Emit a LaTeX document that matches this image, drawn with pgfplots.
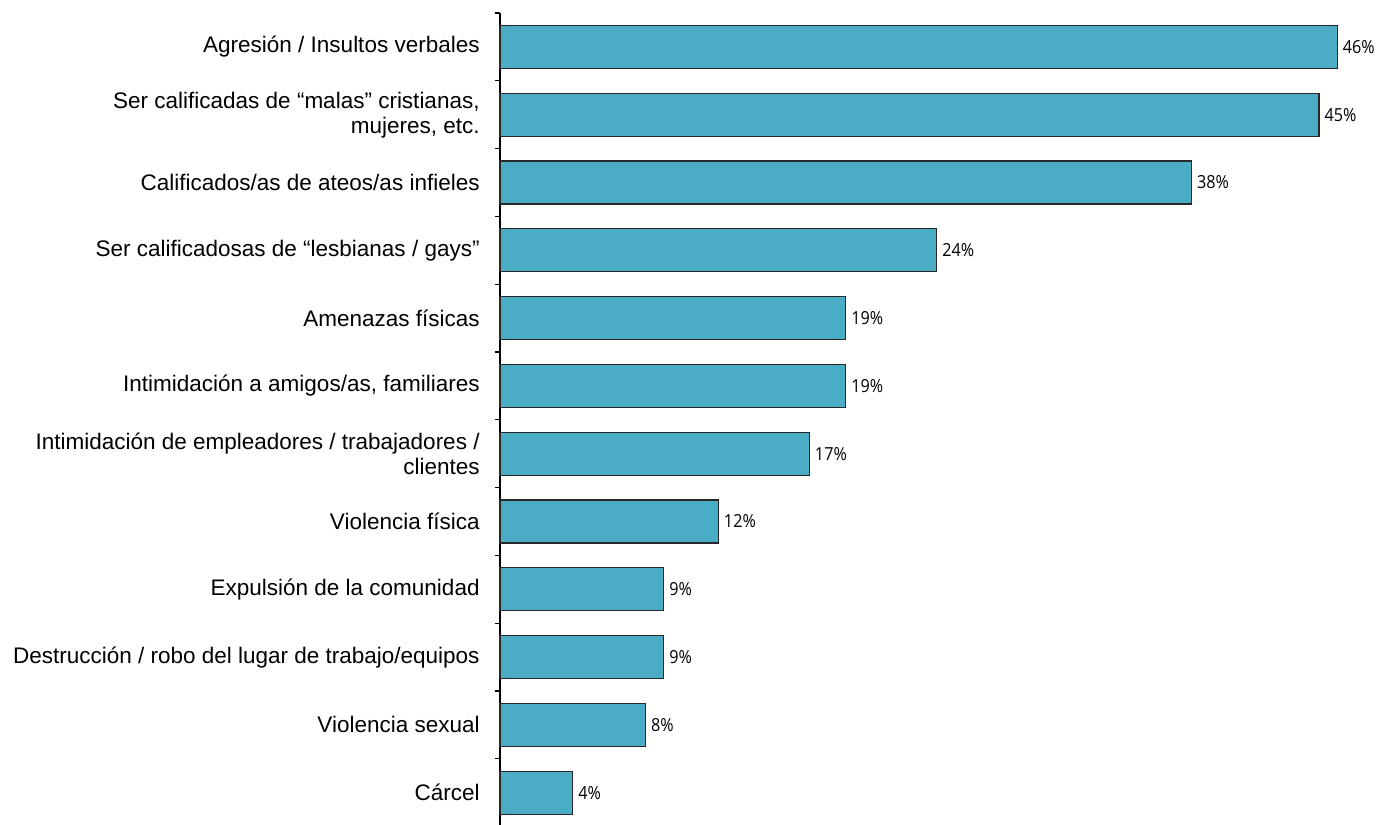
\documentclass[border=0pt]{standalone}
\usepackage{pgfplots}
\pgfplotsset{compat=1.18}
\usepackage{fontspec}
\setmainfont{Liberation Sans}
\newfontfamily\valfont[FakeStretch=0.9]{Open Sans}
\definecolor{barblue}{RGB}{75,172,198}
\definecolor{edge}{RGB}{40,40,40}
\begin{document}
\begin{tikzpicture}
\useasboundingbox (0,0) rectangle (688.5pt,412.5pt);
\begin{axis}[
  at={(250pt,-0.8pt)}, anchor=south west,
  scale only axis, width=436.8pt, height=406.8pt,
  xmin=0, xmax=48, ymin=-0.5, ymax=11.5,
  axis x line=none,
  axis y line*=left,
  y axis line style={line width=0.6pt, black},
  xbar, bar width=21.5pt,
  ytick={0,...,11},
  major tick length=0pt,
  minor ytick={-0.5,0.5,...,11.5},
  minor tick length=2.5pt,
  tick align=outside,
  minor tick style={line width=0.6pt, black},
  yticklabels={
    C\'arcel,
    Violencia sexual,
    Destrucción / robo del lugar de trabajo/equipos,
    Expulsión de la comunidad,
    Violencia física,
    {Intimidación de empleadores / trabajadores /\\clientes},
    {Intimidación a amigos/as, familiares},
    Amenazas físicas,
    Ser calificadosas de “lesbianas / gays”,
    Calificados/as de ateos/as infieles,
    {Ser calificadas de “malas” cristianas,\\mujeres, etc.},
    Agresión / Insultos verbales},
  yticklabel style={align=right, inner sep=0pt, xshift=-10pt,
    font=\fontsize{11.25}{12.5}\selectfont},
  point meta=x,
  /pgf/number format/assume math mode=true,
  nodes near coords={\pgfmathprintnumber{\pgfplotspointmeta}\%},
  nodes near coords style={font=\valfont\fontsize{9}{10}\selectfont, inner sep=2.5pt, anchor=west, text=black},
  clip=false,
]
\addplot[fill=barblue, draw=edge, line width=0.6pt] coordinates {
  (4,0) (8,1) (9,2) (9,3) (12,4) (17,5) (19,6) (19,7) (24,8) (38,9) (45,10) (46,11)
};
\end{axis}
\end{tikzpicture}
\end{document}
